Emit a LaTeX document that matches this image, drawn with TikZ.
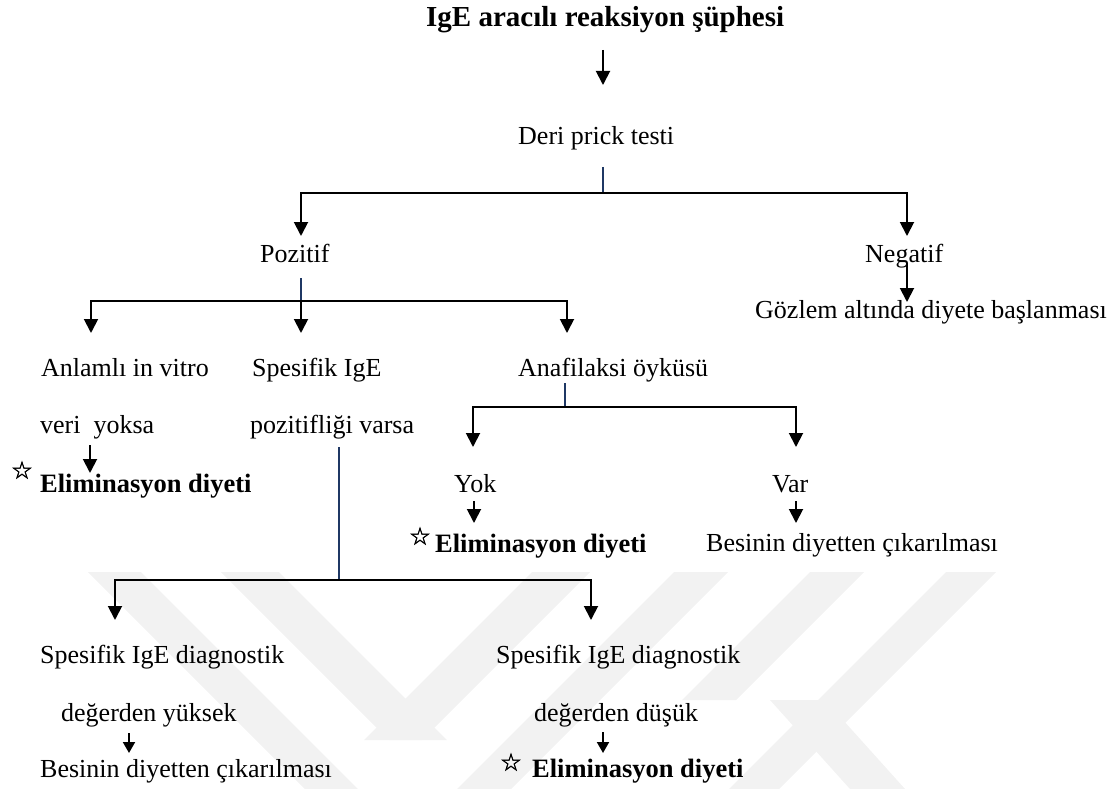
\documentclass[tikz,border=0pt]{standalone}
\usepackage{fontspec}
\setmainfont{Liberation Serif}
\newfontfamily\symfont[FakeBold=1.6]{DejaVu Sans}
\usetikzlibrary{arrows.meta}
\definecolor{tickblue}{RGB}{31,56,100}
\definecolor{wmgray}{RGB}{242,242,242}
\begin{document}
\begin{tikzpicture}[x=1pt,y=-1pt,
  txt/.style={anchor=base west,inner sep=0pt,font=\fontsize{26}{31}\selectfont},
  btxt/.style={anchor=base west,inner sep=0pt,font=\fontsize{26.5}{31}\selectfont\bfseries},
  ttl/.style={anchor=base west,inner sep=0pt,font=\fontsize{29}{34}\selectfont\bfseries},
  starnode/.style={inner sep=0pt,font=\symfont\fontsize{24}{26}\selectfont},
  conn/.style={line width=2pt,black},
  arr/.style={line width=1.9pt,black,-{Triangle[length=14pt,width=14pt]}},
  sarr/.style={line width=1.9pt,black,-{Triangle[length=11pt,width=12pt]}},
  tick/.style={line width=1.4pt,tickblue},
  wm/.style={fill=wmgray,draw=none}]
\useasboundingbox (0,0) rectangle (1120,789);
% watermark
\fill[wm] (88,572) -- (141,572) -- (358,789) -- (305,789) -- cycle;
\fill[wm] (221,572) -- (279,572) -- (447,740) -- (389,740) -- cycle;
\fill[wm] (532,572) -- (590,572) -- (422,740) -- (364,740) -- cycle;
\fill[wm] (674,572) -- (728,572) -- (511,789) -- (457,789) -- cycle;
\fill[wm] (810,572) -- (864,572) -- (736,700) -- (682,700) -- cycle;
\fill[wm] (946,572) -- (996,572) -- (779,789) -- (729,789) -- cycle;
\fill[wm] (770,700) -- (825,700) -- (905,789) -- (850,789) -- cycle;
% texts
\node[ttl] (title) at (426,27) {IgE aracılı reaksiyon şüphesi};
\node[txt] (deri) at (518,145) {Deri prick testi};
\node[txt] (poz) at (260,262) {Pozitif};
\node[txt] (neg) at (865,262) {Negatif};
\node[txt] (gozlem) at (755,318) {Gözlem altında diyete başlanması};
\node[txt] (anl) at (41,376) {Anlamlı in vitro};
\node[txt] (spe) at (252,376) {Spesifik IgE};
\node[txt] (ana) at (518,376) {Anafilaksi öyküsü};
\node[txt] (veri) at (40,433) {veri\ \ yoksa};
\node[txt] (pozv) at (250,433) {pozitifliği varsa};
\node[starnode] (star1) at (22,470) {☆};
\node[btxt] (elim1) at (40,492) {Eliminasyon diyeti};
\node[txt] (yok) at (454,492) {Yok};
\node[txt] (var) at (772,492) {Var};
\node[starnode] (star2) at (420,536) {☆};
\node[btxt] (elim2) at (435,552) {Eliminasyon diyeti};
\node[txt] (bes1) at (706,551) {Besinin diyetten çıkarılması};
\node[txt] (sid1) at (40,663) {Spesifik IgE diagnostik};
\node[txt] (sid2) at (496,663) {Spesifik IgE diagnostik};
\node[txt] (deg1) at (61,721) {değerden yüksek};
\node[txt] (deg2) at (534,721) {değerden düşük};
\node[txt] (bes2) at (40,777) {Besinin diyetten çıkarılması};
\node[starnode] (star3) at (511,762) {☆};
\node[btxt] (elim3) at (532,777) {Eliminasyon diyeti};
% junction coordinates
\coordinate (t1s) at (603,50);   \coordinate (t1e) at (603,85);
\coordinate (d1) at (603,167);   \coordinate (d2) at (603,193);
\coordinate (hpz) at (301,193);  \coordinate (hng) at (907,193);
\coordinate (apz) at (301,236);  \coordinate (ang) at (907,236);
\coordinate (p1) at (301,278);   \coordinate (p2) at (301,301);
\coordinate (han) at (91,301);   \coordinate (hana) at (567,301);
\coordinate (aan) at (91,333);   \coordinate (asp) at (301,333);  \coordinate (aana) at (567,333);
\coordinate (n1) at (907,263);   \coordinate (n2) at (907,302);
\coordinate (q1) at (565,383);   \coordinate (q2) at (565,407);
\coordinate (hyok) at (473,407); \coordinate (hvar) at (796,407);
\coordinate (ayok) at (473,447); \coordinate (avar) at (796,447);
\coordinate (v1) at (90,445);    \coordinate (v2) at (90,473);
\coordinate (s1) at (339,447);   \coordinate (s2) at (339,580);
\coordinate (y1) at (474,501);   \coordinate (y2) at (474,523);
\coordinate (r1) at (796,501);   \coordinate (r2) at (796,523);
\coordinate (hs1) at (115,580);  \coordinate (hs2) at (591,580);
\coordinate (as1) at (115,620);  \coordinate (as2) at (591,620);
\coordinate (g1) at (129,733);   \coordinate (g2) at (129,753);
\coordinate (k1) at (603,732);   \coordinate (k2) at (603,753);
% connectors
\draw[arr] (t1s) -- (t1e);
\draw[tick] (d1) -- (d2);
\draw[arr] (d2) -- (hpz) -- (apz);
\draw[arr] (d2) -- (hng) -- (ang);
\draw[tick] (p1) -- (p2);
\draw[arr] (p2) -- (han) -- (aan);
\draw[arr] (p2) -- (asp);
\draw[arr] (p2) -- (hana) -- (aana);
\draw[arr] (n1) -- (n2);
\draw[tick] (q1) -- (q2);
\draw[arr] (q2) -- (hyok) -- (ayok);
\draw[arr] (q2) -- (hvar) -- (avar);
\draw[arr] (v1) -- (v2);
\draw[tick] (s1) -- (s2);
\draw[arr] (y1) -- (y2);
\draw[arr] (r1) -- (r2);
\draw[arr] (s2) -- (hs1) -- (as1);
\draw[arr] (s2) -- (hs2) -- (as2);
\draw[sarr] (g1) -- (g2);
\draw[sarr] (k1) -- (k2);
\end{tikzpicture}
\end{document}
